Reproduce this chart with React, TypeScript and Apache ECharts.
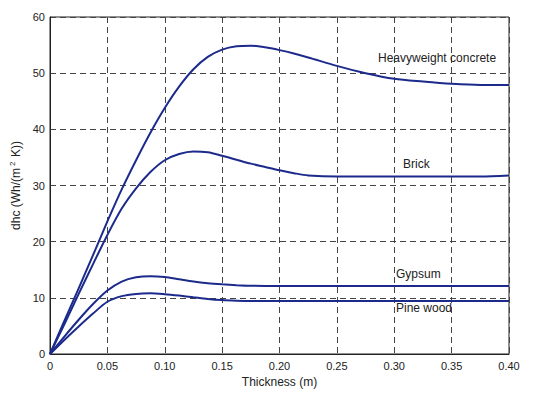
import React, { useEffect, useRef } from "react";
import * as echarts from "echarts";

const xTicks = [0, 0.05, 0.1, 0.15, 0.2, 0.25, 0.3, 0.35, 0.4];

const concreteX = [0, 0.0125, 0.025, 0.0375, 0.05, 0.0625, 0.075, 0.0875, 0.1, 0.1125, 0.125, 0.1375, 0.15, 0.1625, 0.175, 0.1875, 0.2, 0.2125, 0.225, 0.25, 0.275, 0.3, 0.325, 0.35, 0.375, 0.4];
const concreteY = [0, 5.9, 11.7, 17.6, 23.6, 29.3, 34.5, 39.4, 43.8, 47.6, 50.7, 52.9, 54.2, 54.8, 54.9, 54.6, 54.1, 53.5, 52.8, 51.3, 50.0, 49.0, 48.5, 48.1, 47.9, 47.9];

const brickX = [0, 0.0125, 0.025, 0.0375, 0.05, 0.0625, 0.075, 0.0875, 0.1, 0.1125, 0.125, 0.1375, 0.15, 0.1625, 0.175, 0.1875, 0.2, 0.2125, 0.225, 0.25, 0.3, 0.35, 0.375, 0.4];
const brickY = [0, 5.3, 10.7, 16.0, 21.2, 25.9, 29.5, 32.4, 34.5, 35.6, 36.05, 35.9, 35.3, 34.6, 33.9, 33.3, 32.7, 32.2, 31.8, 31.6, 31.6, 31.6, 31.6, 31.8];

const gypsumX = [0, 0.0125, 0.025, 0.0375, 0.05, 0.0625, 0.075, 0.0875, 0.1, 0.1125, 0.125, 0.1375, 0.15, 0.1625, 0.175, 0.2, 0.3, 0.4];
const gypsumY = [0, 3.1, 6.1, 8.9, 11.3, 12.9, 13.65, 13.85, 13.7, 13.3, 12.9, 12.6, 12.4, 12.25, 12.15, 12.1, 12.1, 12.1];

const pineX = [0, 0.0125, 0.025, 0.0375, 0.05, 0.0625, 0.075, 0.0875, 0.1, 0.1125, 0.125, 0.1375, 0.15, 0.1625, 0.175, 0.2, 0.3, 0.4];
const pineY = [0, 2.5, 4.9, 7.2, 9.3, 10.3, 10.7, 10.8, 10.65, 10.4, 10.1, 9.8, 9.6, 9.5, 9.45, 9.45, 9.45, 9.45];

const seriesNames = ["Heavyweight concrete", "Brick", "Gypsum", "Pine wood"];

const zip = (xs: number[], ys: number[]) => xs.map((x, i) => [x, ys[i]]);

export default function App() {
  const ref = useRef<HTMLDivElement>(null);
  useEffect(() => {
    if (!ref.current) return;
    const chart = echarts.init(ref.current, undefined, { renderer: "svg" });
    const lineColor = "#1c2a8c";
    const font = "Liberation Sans, Arial, sans-serif";
    const datasets = [
      zip(concreteX, concreteY),
      zip(brickX, brickY),
      zip(gypsumX, gypsumY),
      zip(pineX, pineY),
    ];
    const gridLine = { show: true, lineStyle: { color: "#444", type: [6, 4] as any, width: 1 } };
    chart.setOption({
      animation: false,
      backgroundColor: "#fff",
      grid: { left: 49, right: 47, top: 17, bottom: 41, show: true, borderColor: "#222", borderWidth: 1, backgroundColor: "transparent" },
      xAxis: {
        type: "value",
        min: xTicks[0],
        max: xTicks[xTicks.length - 1],
        interval: 0.05,
        name: "Thickness (m)",
        nameLocation: "middle",
        nameGap: 22,
        nameTextStyle: { fontFamily: font, fontSize: 12, color: "#222" },
        axisLine: { show: true, lineStyle: { color: "#222" } },
        axisTick: { show: false },
        axisLabel: {
          fontFamily: font,
          fontSize: 11,
          color: "#222",
          margin: 6,
          formatter: (v: number) => (v === 0 ? "0" : v.toFixed(2)),
        },
        splitLine: gridLine,
      },
      yAxis: {
        type: "value",
        min: 0,
        max: 60,
        interval: 10,
        name: "dhc (Wh/(m{sup|2} K))",
        nameLocation: "middle",
        nameGap: 27,
        nameTextStyle: {
          fontFamily: font,
          fontSize: 12,
          color: "#222",
          rich: { sup: { fontFamily: font, fontSize: 8, color: "#222", padding: [0, 1, 7, 2] } },
        },
        axisLine: { show: true, lineStyle: { color: "#222" } },
        axisTick: { show: false },
        axisLabel: { fontFamily: font, fontSize: 11, color: "#222", margin: 5 },
        splitLine: gridLine,
      },
      series: datasets.map((d, i) => ({
        type: "line",
        name: seriesNames[i],
        data: d,
        smooth: 0.3,
        showSymbol: false,
        lineStyle: { color: lineColor, width: 2 },
        z: 5,
      })),
      graphic: [
        { type: "text", left: 378, top: 52, style: { text: seriesNames[0], fontFamily: font, fontSize: 12, fill: "#222" }, z: 10 },
        { type: "text", left: 403, top: 158, style: { text: seriesNames[1], fontFamily: font, fontSize: 12, fill: "#222" }, z: 10 },
        { type: "text", left: 396, top: 268, style: { text: seriesNames[2], fontFamily: font, fontSize: 12, fill: "#222" }, z: 10 },
        { type: "text", left: 396, top: 302, style: { text: seriesNames[3], fontFamily: font, fontSize: 12, fill: "#222" }, z: 10 },
      ],
    });
    return () => chart.dispose();
  }, []);
  return <div ref={ref} style={{ position: "absolute", left: 0, top: 0, width: 556, height: 395 }} />;
}
